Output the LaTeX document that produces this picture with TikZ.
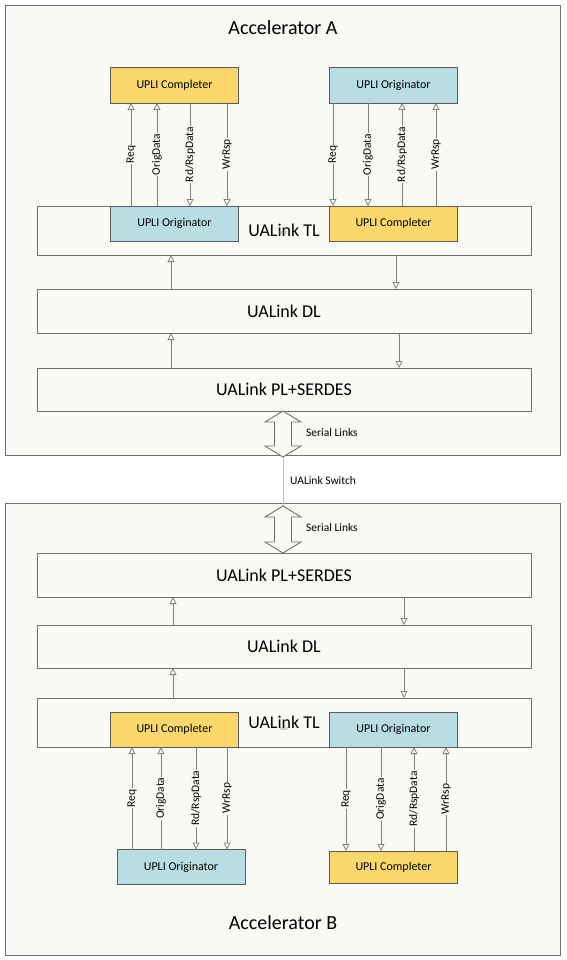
\documentclass[tikz,border=0pt]{standalone}
\usepackage{fontspec}
\setmainfont{Carlito}
\usepackage{tikz}
\usetikzlibrary{positioning, arrows.meta, calc}

\definecolor{panel}{HTML}{F9F9F6}
\definecolor{framegray}{HTML}{707070}
\definecolor{boxgray}{HTML}{5A5A5A}
\definecolor{arrowgray}{HTML}{808080}
\definecolor{uplyellow}{HTML}{FAD86B}
\definecolor{uplblue}{HTML}{B8DDE2}

\begin{document}
\begin{tikzpicture}[
    x=1pt, y=-1pt,
    accbox/.style={draw=framegray, fill=panel, line width=0.9pt, inner sep=0pt, outer sep=0pt},
    stackbox/.style={draw=framegray, fill=panel, line width=0.9pt, minimum width=494pt, inner sep=0pt, outer sep=0pt, font=\fontsize{18}{20}\selectfont},
    upli/.style={draw=boxgray, line width=0.9pt, minimum width=128pt, minimum height=35pt, inner sep=0pt, outer sep=0pt, font=\fontsize{12}{14}\selectfont},
    cpl/.style={upli, fill=uplyellow},
    org/.style={upli, fill=uplblue},
    sig/.style={draw=arrowgray, line width=0.8pt, -{Triangle[open, length=7pt, width=7pt]}},
    sigtext/.style={midway, fill=panel, rotate=90, inner sep=1pt, font=\fontsize{11.5}{13}\selectfont},
    serial/.style={draw=framegray, fill=panel, line width=0.9pt},
    smalltext/.style={inner sep=0pt, font=\fontsize{11.5}{13}\selectfont},
    tinytext/.style={inner sep=0pt, text=arrowgray, font=\fontsize{5}{6}\selectfont}
]
\useasboundingbox (0,0) rectangle (566,960);

% Accelerator A
\node[accbox, minimum width=555pt, minimum height=450pt] (accA) at (282.5,230) {};
\node[font=\fontsize{20}{24}\selectfont] (titleA) at (283,28) {Accelerator A};

\node[stackbox, minimum height=49pt] (tlA) at (284,230.5) {UALink TL};
\node[stackbox, minimum height=44pt, below=34pt of tlA] (dlA) {UALink DL};
\node[stackbox, minimum height=43pt, below=35pt of dlA] (plA) {UALink PL+SERDES};
\node[tinytext] (txtA) at (283,233) {text};

\node[cpl, minimum height=36pt] (cplA1) at (174.5,85) {UPLI Completer};
\node[org, anchor=north] (orgA1) at (174.5,0 |- tlA.north) {UPLI Originator};
\node[org, minimum height=36pt] (orgA2) at (393.5,85) {UPLI Originator};
\node[cpl, anchor=north] (cplA2) at (393.5,0 |- tlA.north) {UPLI Completer};

% UPLI signals, A
\draw[sig] (131,0 |- orgA1.north) -- (131,0 |- cplA1.south) node[sigtext] {Req};
\draw[sig] (157,0 |- orgA1.north) -- (157,0 |- cplA1.south) node[sigtext] {OrigData};
\draw[sig] (190,0 |- cplA1.south) -- (190,0 |- orgA1.north) node[sigtext] {Rd/RspData};
\draw[sig] (227,0 |- cplA1.south) -- (227,0 |- orgA1.north) node[sigtext] {WrRsp};

\draw[sig] (333,0 |- orgA2.south) -- (333,0 |- cplA2.north) node[sigtext] {Req};
\draw[sig] (368,0 |- orgA2.south) -- (368,0 |- cplA2.north) node[sigtext] {OrigData};
\draw[sig] (402,0 |- cplA2.north) -- (402,0 |- orgA2.south) node[sigtext] {Rd/RspData};
\draw[sig] (436,0 |- cplA2.north) -- (436,0 |- orgA2.south) node[sigtext] {WrRsp};

% layer links, A
\draw[sig] (171,0 |- dlA.north) -- (171,0 |- tlA.south);
\draw[sig] (396,0 |- tlA.south) -- (396,0 |- dlA.north);
\draw[sig] (171,0 |- plA.north) -- (171,0 |- dlA.south);
\draw[sig] (399,0 |- dlA.south) -- (399,0 |- plA.north);

% Accelerator B
\node[accbox, minimum width=555pt, minimum height=452pt] (accB) at (282.5,729) {};
\node[font=\fontsize{20}{24}\selectfont] (titleB) at (283,923) {Accelerator B};

\node[stackbox, minimum height=44pt] (plB) at (284,575) {UALink PL+SERDES};
\node[stackbox, minimum height=43pt, below=28pt of plB] (dlB) {UALink DL};
\node[stackbox, minimum height=49pt, below=30pt of dlB] (tlB) {UALink TL};
\node[tinytext] (txtB) at (284,729) {text};

\node[cpl, anchor=south] (cplB1) at (174.5,0 |- tlB.south) {UPLI Completer};
\node[org] (orgB1) at (181,867) {UPLI Originator};
\node[org, anchor=south] (orgB2) at (393.5,0 |- tlB.south) {UPLI Originator};
\node[cpl, minimum height=32pt] (cplB2) at (393.5,867) {UPLI Completer};

% UPLI signals, B
\draw[sig] (132,0 |- orgB1.north) -- (132,0 |- cplB1.south) node[sigtext] {Req};
\draw[sig] (161,0 |- orgB1.north) -- (161,0 |- cplB1.south) node[sigtext] {OrigData};
\draw[sig] (196,0 |- cplB1.south) -- (196,0 |- orgB1.north) node[sigtext] {Rd/RspData};
\draw[sig] (227,0 |- cplB1.south) -- (227,0 |- orgB1.north) node[sigtext] {WrRsp};

\draw[sig] (346,0 |- orgB2.south) -- (346,0 |- cplB2.north) node[sigtext] {Req};
\draw[sig] (381,0 |- orgB2.south) -- (381,0 |- cplB2.north) node[sigtext] {OrigData};
\draw[sig] (414,0 |- cplB2.north) -- (414,0 |- orgB2.south) node[sigtext] {Rd/RspData};
\draw[sig] (446,0 |- cplB2.north) -- (446,0 |- orgB2.south) node[sigtext] {WrRsp};

% layer links, B
\draw[sig] (173,0 |- dlB.north) -- (173,0 |- plB.south);
\draw[sig] (404,0 |- plB.south) -- (404,0 |- dlB.north);
\draw[sig] (173,0 |- tlB.north) -- (173,0 |- dlB.south);
\draw[sig] (404,0 |- dlB.south) -- (404,0 |- tlB.north);

% serial links and switch
\coordinate (sA1) at (283,0 |- plA.south);
\coordinate (sA2) at (283,457);
\coordinate (sB1) at (283,506);
\coordinate (sB2) at (283,0 |- plB.north);

\draw[serial] (sA1) -- ++(18,11) -- ++(-9.5,0) -- ($(sA2)+(8.5,-11)$) -- ++(9.5,0) -- (sA2)
    -- ++(-18,-11) -- ++(9.5,0) -- ($(sA1)+(-8.5,11)$) -- ++(-9.5,0) -- cycle;
\draw[serial] (sB1) -- ++(18,11) -- ++(-9.5,0) -- ($(sB2)+(8.5,-11)$) -- ++(9.5,0) -- (sB2)
    -- ++(-18,-11) -- ++(9.5,0) -- ($(sB1)+(-8.5,11)$) -- ++(-9.5,0) -- cycle;
\draw[draw=black!25, line width=0.8pt] (sA2) -- (sB1);

\node[smalltext, anchor=west] (serA) at (306,433) {Serial Links};
\node[smalltext, anchor=west] (swlbl) at (290,481) {UALink Switch};
\node[smalltext, anchor=west] (serB) at (306,528) {Serial Links};

\end{tikzpicture}
\end{document}
